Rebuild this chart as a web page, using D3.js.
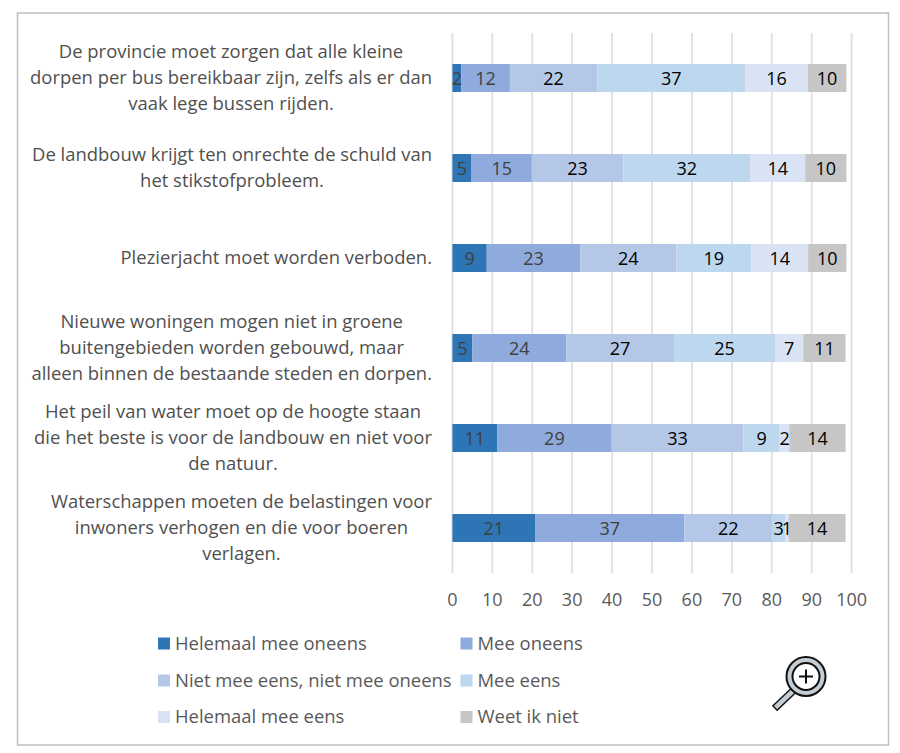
<!DOCTYPE html>
<html><head><meta charset="utf-8">
<script src="https://cdn.jsdelivr.net/npm/d3@7/dist/d3.min.js"></script>
<style>html,body{margin:0;padding:0;background:#fff}svg{display:block}text{font-family:"Open Sans",sans-serif}</style>
</head><body><svg id="c" width="900" height="753"></svg>
<script>
const categories=[
 ["De provincie moet zorgen dat alle kleine","dorpen per bus bereikbaar zijn, zelfs als er dan","vaak lege bussen rijden."],
 ["De landbouw krijgt ten onrechte de schuld van","het stikstofprobleem."],
 ["Plezierjacht moet worden verboden."],
 ["Nieuwe woningen mogen niet in groene","buitengebieden worden gebouwd, maar","alleen binnen de bestaande steden en dorpen."],
 ["Het peil van water moet op de hoogte staan","die het beste is voor de landbouw en niet voor","de natuur."],
 ["Waterschappen moeten de belastingen voor","inwoners verhogen en die voor boeren","verlagen."]
];
const seriesNames=["Helemaal mee oneens","Mee oneens","Niet mee eens, niet mee oneens","Mee eens","Helemaal mee eens","Weet ik niet"];
const seriesColors=["#2e75b6","#8faadc","#b4c7e7","#bdd7ee","#dae3f3","#c6c6c6"];
const labelColors=["#404040","#404040","#000","#000","#000","#000"];
const helemaalOneens=[2.2,4.8,8.6,5.0,11.2,20.7];
const meeOneens=[12.2,15.1,23.4,23.5,28.7,37.4];
const neutraal=[21.9,22.9,24.1,27.0,33.0,22.0];
const meeEens=[37.1,31.8,18.8,25.3,9.1,3.3];
const helemaalEens=[15.6,13.8,14.2,7.1,2.4,0.8];
const weetNiet=[9.7,10.3,9.6,10.6,14.1,14.3];
const allSeries=[helemaalOneens,meeOneens,neutraal,meeEens,helemaalEens,weetNiet];
const xTicks=[0,10,20,30,40,50,60,70,80,90,100];

const svg=d3.select("#c");
svg.append("rect").attr("x",17.5).attr("y",13).attr("width",871).attr("height",732).attr("fill","#fff").attr("stroke","#bfbfbf").attr("stroke-width",1.5);
const x=d3.scaleLinear().domain([0,100]).range([452.4,851.6]);
const y=d3.scaleBand().domain(d3.range(categories.length)).range([33,573]).paddingInner(0.689).paddingOuter(0.3445);
const fs=18, fsL=18.45;
svg.append("g").selectAll("line").data(xTicks).join("line")
 .attr("x1",d=>x(d)).attr("x2",d=>x(d)).attr("y1",33).attr("y2",573)
 .attr("stroke","#dedede").attr("stroke-width",1.7);
svg.append("g").selectAll("text").data(xTicks).join("text")
 .attr("x",d=>x(d)).attr("y",606).attr("text-anchor","middle").attr("font-size",fs).attr("fill","#595959").text(d=>d);
const stackRows=categories.map((c,i)=>{let acc=0;return allSeries.map((s,k)=>{const o={i,k,x0:acc,x1:acc+s[i],v:s[i]};acc+=s[i];return o;});});
const rows=svg.append("g").selectAll("g").data(stackRows).join("g");
rows.selectAll("rect").data(d=>d).join("rect")
 .attr("x",d=>x(d.x0)).attr("width",d=>x(d.x1)-x(d.x0))
 .attr("y",d=>y(d.i)).attr("height",y.bandwidth()).attr("fill",d=>seriesColors[d.k]);
rows.selectAll("text").data(d=>d).join("text")
 .attr("x",d=>(x(d.x0)+x(d.x1))/2).attr("y",d=>y(d.i)+y.bandwidth()/2+7)
 .attr("text-anchor","middle").attr("font-size",fs).attr("fill",d=>labelColors[d.k]).text(d=>Math.round(d.v));
// category labels: each block centred, its widest line ending at the same right edge
const lh=26, rightEdge=432;
const cat=svg.append("g").selectAll("text").data(categories).join("text")
 .attr("text-anchor","middle").attr("font-size",fsL).attr("fill","#505050");
cat.each(function(lines,i){
 const c=y(i)+y.bandwidth()/2;
 const t=d3.select(this);
 const spans=t.selectAll("tspan").data(lines).join("tspan")
  .attr("y",(d,j)=>c+6+(j-(lines.length-1)/2)*lh).text(d=>d);
 let w=0;
 spans.each(function(){w=Math.max(w,this.getComputedTextLength());});
 spans.attr("x",rightEdge-w/2);
});
const legX=[158,460.5],legY=[643.5,680.5,717];
seriesNames.forEach((n,k)=>{
 const lx=legX[k%2],ly=legY[Math.floor(k/2)];
 svg.append("rect").attr("x",lx).attr("y",ly-6).attr("width",12).attr("height",12).attr("fill",seriesColors[k]);
 svg.append("text").attr("x",lx+17).attr("y",ly+6).attr("font-size",fsL).attr("fill","#595959").text(n);
});
const m=svg.append("g").attr("fill","none");
m.append("line").attr("x1",794).attr("y1",690).attr("x2",774.5).attr("y2",708.5).attr("stroke","#111").attr("stroke-width",7.5);
m.append("line").attr("x1",794).attr("y1",690).attr("x2",775.5).attr("y2",707.5).attr("stroke","#c4ccd4").attr("stroke-width",4.5);
m.append("circle").attr("cx",806).attr("cy",676.5).attr("r",19.5).attr("fill","#c4ccd4").attr("stroke","#111").attr("stroke-width",2);
m.append("circle").attr("cx",806).attr("cy",676.5).attr("r",13.5).attr("fill","#fff").attr("stroke","#111").attr("stroke-width",2);
m.append("path").attr("d","M806 669.5V683.5M799 676.5H813").attr("stroke","#111").attr("stroke-width",2);
</script></body></html>
